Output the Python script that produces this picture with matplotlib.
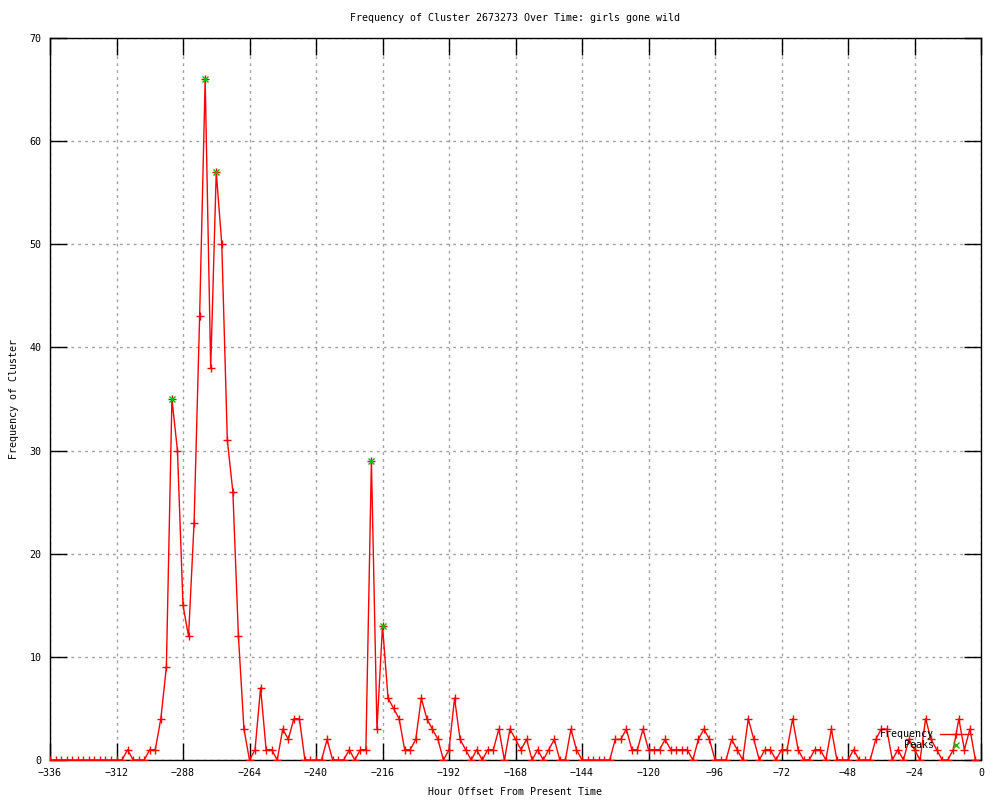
import matplotlib
matplotlib.use("Agg")
import matplotlib.pyplot as plt
from matplotlib.ticker import MultipleLocator

# ---- data -------------------------------------------------------------
hours = list(range(-336, 0, 2))  # every 2 hours, -336 .. -2
frequency = [
    0, 0, 0, 0, 0, 0, 0, 0, 0, 0, 0, 0,          # -336 .. -314
    0, 0, 1, 0, 0, 0, 1, 1, 4, 9, 35, 30,        # -312 .. -290
    15, 12, 23, 43, 66, 38, 57, 50, 31, 26, 12, 3,  # -288 .. -266
    0, 1, 7, 1, 1, 0, 3, 2, 4, 4, 0, 0,          # -264 .. -242
    0, 0, 2, 0, 0, 0, 1, 0, 1, 1, 29, 3,         # -240 .. -218
    13, 6, 5, 4, 1, 1, 2, 6, 4, 3, 2, 0,         # -216 .. -194
    1, 6, 2, 1, 0, 1, 0, 1, 1, 3, 0, 3,          # -192 .. -170
    2, 1, 2, 0, 1, 0, 1, 2, 0, 0, 3, 1,          # -168 .. -146
    0, 0, 0, 0, 0, 0, 2, 2, 3, 1, 1, 3,          # -144 .. -122
    1, 1, 1, 2, 1, 1, 1, 1, 0, 2, 3, 2,          # -120 .. -98
    0, 0, 0, 2, 1, 0, 4, 2, 0, 1, 1, 0,          # -96 .. -74
    1, 1, 4, 1, 0, 0, 1, 1, 0, 3, 0, 0,          # -72 .. -50
    0, 1, 0, 0, 0, 2, 3, 3, 0, 1, 0, 2,          # -48 .. -26
    1, 0, 4, 2, 1, 0, 0, 1, 4, 1, 3, 0,          # -24 .. -2
]
peak_hours = [-292, -280, -276, -220, -216]
peak_values = [35, 66, 57, 29, 13]

title = "Frequency of Cluster 2673273 Over Time: girls gone wild"
xlabel = "Hour Offset From Present Time"
ylabel = "Frequency of Cluster"

# ---- style -------------------------------------------------------------
FONT = "DejaVu Sans Mono"
FS = 7.2

fig = plt.figure(figsize=(10, 8), dpi=100)
ax = fig.add_axes([0.050, 0.050, 0.931, 0.9025])

ax.plot(hours, frequency, color="#ff0000", lw=1.0, marker="+", ms=6,
        mew=1.0, label="Frequency", zorder=3)
ax.plot(peak_hours, peak_values, ls="none", color="#00c000", marker="x",
        ms=5, mew=1.0, label="Peaks", zorder=4)

ax.set_xlim(-336, 0)
ax.set_ylim(0, 70)
ax.xaxis.set_major_locator(MultipleLocator(24))
ax.yaxis.set_major_locator(MultipleLocator(10))

ax.grid(True, color="#a0a0a0", ls=(0, (2, 3)), lw=1.0)
ax.set_axisbelow(True)
for s in ax.spines.values():
    s.set_linewidth(1.0)
    s.set_color("black")

ax.tick_params(direction="in", length=12, width=1.0, top=True, right=True,
               labelsize=FS, pad=6)
for lab in ax.get_xticklabels() + ax.get_yticklabels():
    lab.set_family(FONT)

ax.set_title(title, fontsize=FS, family=FONT, pad=12)
ax.set_xlabel(xlabel, fontsize=FS, family=FONT, labelpad=6)
ax.set_ylabel(ylabel, fontsize=FS, family=FONT, labelpad=8)

leg = ax.legend(loc="lower right", bbox_to_anchor=(0.995, 0.008),
                frameon=False, markerfirst=False, prop={"family": FONT, "size": FS},
                handlelength=3.2, handletextpad=0.6, labelspacing=0.1,
                borderaxespad=0.0)

fig.savefig("out.png", dpi=100)
